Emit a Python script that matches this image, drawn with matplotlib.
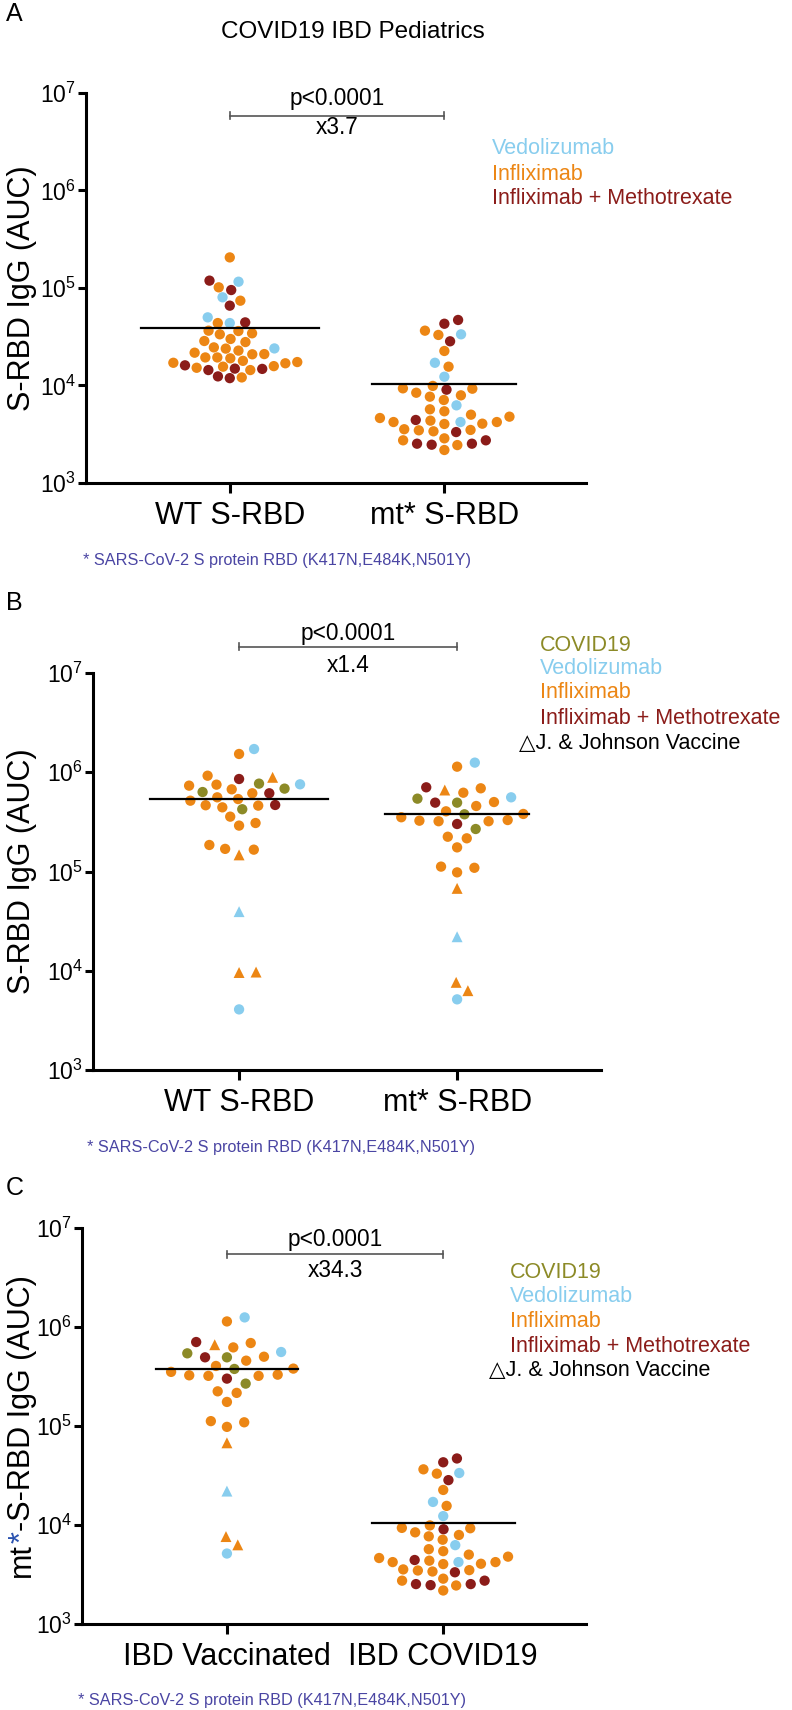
import numpy as np
import matplotlib
matplotlib.use('Agg')
import matplotlib.pyplot as plt
from matplotlib.ticker import NullLocator
from matplotlib.transforms import blended_transform_factory

plt.rcParams['font.family'] = ['Liberation Sans', 'DejaVu Sans']
plt.rcParams['mathtext.fontset'] = 'custom'
plt.rcParams['mathtext.rm'] = 'Liberation Sans'
plt.rcParams['mathtext.it'] = 'Liberation Sans:italic'
plt.rcParams['mathtext.bf'] = 'Liberation Sans:bold'

W, H = 792, 1710

# ---- data (S-RBD IgG AUC values) ----
# panel A: COVID19 IBD pediatrics, WT vs mutant RBD
a_wt_vedo = [116000, 80300, 43700, 50000, 24000]
a_wt_ifx = [206000, 101600, 74100, 43700, 36200, 33500, 34300, 36500, 30000, 27900,
            28600, 24600, 21700, 21000, 19400, 23900, 22800, 19400, 20900, 15800,
            16900, 17400, 15200, 14400, 19000, 17100, 15600, 17900, 12100]
a_wt_mtx = [119000, 95300, 65900, 44400, 16100, 12400, 14900, 11900, 14800, 14400]

a_mt_vedo = [33500, 17100, 12300, 6260, 4220]
a_mt_ifx = [36500, 33000, 22600, 15600, 9900, 9270, 8430, 9350, 7930, 7680,
            7100, 5700, 5440, 5020, 4790, 4360, 4220, 4030, 4220, 4060,
            4640, 3470, 3500, 3390, 3560, 2870, 2740, 2450, 2180]
a_mt_mtx = [47000, 43000, 28400, 9060, 4430, 3330, 2740, 2470, 2530, 2530]

# panel B: vaccinated IBD, WT vs mutant RBD
b_wt_covid = [684000, 768000, 632000, 424000]
b_wt_vedo = [1714000, 756000, 4080]
b_wt_vedo_jj = [39400]
b_wt_ifx = [1528000, 673000, 750000, 923000, 733000, 517000, 559000, 614000, 537000,
            443000, 465000, 461000, 308000, 290000, 357000, 169000, 166000, 185000]
b_wt_ifx_jj = [889000, 147000, 9700, 9600]
b_wt_mtx = [855000, 614000, 468000]

b_mt_covid = [494000, 542000, 377000, 268000]
b_mt_vedo = [1250000, 559000, 5150]
b_mt_vedo_jj = [22000]
b_mt_ifx = [1138000, 689000, 622000, 501000, 457000, 325000, 380000, 404000, 321000,
            352000, 321000, 330000, 224000, 216000, 175000, 109000, 112000, 98000]
b_mt_ifx_jj = [662000, 67600, 7640, 6300]
b_mt_mtx = [705000, 494000, 301000]

cats_a = ['WT S-RBD', 'mt* S-RBD']
cats_b = ['WT S-RBD', 'mt* S-RBD']
cats_c = ['IBD Vaccinated', 'IBD COVID19']
ratios = ['x3.7', 'x1.4', 'x34.3']
decades = [3, 4, 5, 6, 7]

col = {'covid': '#8c8a27', 'vedo': '#88cdee', 'ifx': '#ec8614', 'mtx': '#8b1c19'}
foot_col = '#4a45a3'
footnote = '* SARS-CoV-2 S protein RBD (K417N,E484K,N501Y)'

fig = plt.figure(figsize=(W / 100, H / 100), dpi=100)
fig.patch.set_facecolor('white')


def fx(x):
    return x / W


def fy(y):
    return 1 - y / H


def make_axes(x0, x1, ytop, ybot):
    ax = fig.add_axes([fx(x0), fy(ybot), (x1 - x0) / W, (ybot - ytop) / H])
    ax.set_yscale('log')
    ax.set_ylim(10.0 ** decades[0], 10.0 ** decades[-1])
    ax.set_xlim(-0.67, 1.66)
    ax.set_yticks([10.0 ** d for d in decades])
    ax.set_yticklabels(['$10^{%d}$' % d for d in decades])
    ax.yaxis.set_minor_locator(NullLocator())
    for s in ['top', 'right']:
        ax.spines[s].set_visible(False)
    for s in ['left', 'bottom']:
        ax.spines[s].set_linewidth(2.2)
    ax.tick_params(axis='y', length=6, width=2.2, pad=1, labelsize=16.5)
    ax.tick_params(axis='x', length=7, width=2.2, pad=6, labelsize=22)
    ax.set_xticks([0, 1])
    return ax


def swarm(vals, ax, step, vgap=10.5):
    # simple beeswarm in pixel space
    ypx = ax.transData.transform(np.column_stack([np.zeros(len(vals)), vals]))[:, 1]
    xs = np.zeros(len(vals))
    placed = []
    for i in np.argsort(ypx):
        y = ypx[i]
        bad = []
        for px_, py_ in placed:
            d = (y - py_) / vgap
            if abs(d) < 1:
                half = step * np.sqrt(1 - d * d)
                bad.append((px_ - half, px_ + half))
        cands = [0.0] + [b[0] for b in bad] + [b[1] for b in bad]
        cands.sort(key=lambda c: (abs(c), -c))
        for c in cands:
            if all(not (lo + 1e-6 < c < hi - 1e-6) for lo, hi in bad):
                xs[i] = c
                break
        placed.append((xs[i], y))
    return xs


def draw_column(ax, pos, groups, step, half_w):
    vals = np.concatenate([np.asarray(g[0], float) for g in groups])
    keys = []
    for g in groups:
        keys += [(g[1], g[2])] * len(g[0])
    off = swarm(vals, ax, step)
    unit = ax.transData.transform([[1, 1e3]])[0, 0] - ax.transData.transform([[0, 1e3]])[0, 0]
    xs = pos + off / unit
    for (c, m) in set(keys):
        idx = [i for i, k in enumerate(keys) if k == (c, m)]
        ax.scatter(xs[idx], vals[idx], s=62 if m == '^' else 55, marker=m,
                   color=col[c], edgecolors='none', zorder=2, clip_on=False)
    ax.plot([pos - half_w, pos + half_w], [vals.mean()] * 2, color='black', lw=1.6, zorder=3)


def bracket(ax, y_p, y_line, y_ratio, ratio):
    tr = blended_transform_factory(ax.transData, fig.transFigure)
    ax.plot([0, 1], [fy(y_line)] * 2, transform=tr, color='#555555', lw=1.2, clip_on=False)
    for x in [0, 1]:
        ax.plot([x, x], [fy(y_line - 3.5), fy(y_line + 3.5)], transform=tr,
                color='#555555', lw=1.2, clip_on=False)
    ax.text(0.5, fy(y_p), 'p<0.0001', transform=tr, ha='center', va='center', fontsize=16.3)
    ax.text(0.5, fy(y_ratio), ratio, transform=tr, ha='center', va='center', fontsize=16.3)


def legend(x, ys, with_covid, x_jj=None):
    items = [('COVID19', col['covid'])] if with_covid else []
    items += [('Vedolizumab', col['vedo']), ('Infliximab', col['ifx']),
              ('Infliximab + Methotrexate', col['mtx'])]
    for (t, c), y in zip(items, ys):
        fig.text(fx(x), fy(y), t, color=c, fontsize=15.5, ha='left', va='center')
    if x_jj is not None:
        fig.text(fx(x_jj), fy(ys[-1]), '\u25b3J. & Johnson Vaccine', color='black',
                 fontsize=15.5, ha='left', va='center')


# ---------------- panel A ----------------
fig.text(fx(6), fy(14), 'A', fontsize=18, ha='left', va='center')
fig.text(fx(353), fy(32), 'COVID19 IBD Pediatrics', fontsize=17.5, ha='center', va='center')
axA = make_axes(86, 586, 93, 483)
axA.set_xticklabels(cats_a)
draw_column(axA, 0, [(a_wt_vedo, 'vedo', 'o'), (a_wt_ifx, 'ifx', 'o'), (a_wt_mtx, 'mtx', 'o')], 12, 0.416)
draw_column(axA, 1, [(a_mt_vedo, 'vedo', 'o'), (a_mt_ifx, 'ifx', 'o'), (a_mt_mtx, 'mtx', 'o')], 14.7, 0.336)
bracket(axA, 98, 116, 128, ratios[0])
legend(492, [149, 174, 199], False)
fig.text(fx(22), fy(288), 'S-RBD IgG (AUC)', rotation=90, fontsize=22, ha='center', va='center')
fig.text(fx(83), fy(560), footnote, color=foot_col, fontsize=11.7, ha='left', va='center')

# ---------------- panel B ----------------
fig.text(fx(6), fy(603), 'B', fontsize=18, ha='left', va='center')
axB = make_axes(93, 601, 673, 1070)
axB.set_xticklabels(cats_b)
draw_column(axB, 0, [(b_wt_covid, 'covid', 'o'), (b_wt_vedo, 'vedo', 'o'), (b_wt_vedo_jj, 'vedo', '^'),
                     (b_wt_ifx, 'ifx', 'o'), (b_wt_ifx_jj, 'ifx', '^'), (b_wt_mtx, 'mtx', 'o')], 17, 0.41)
draw_column(axB, 1, [(b_mt_covid, 'covid', 'o'), (b_mt_vedo, 'vedo', 'o'), (b_mt_vedo_jj, 'vedo', '^'),
                     (b_mt_ifx, 'ifx', 'o'), (b_mt_ifx_jj, 'ifx', '^'), (b_mt_mtx, 'mtx', 'o')], 19.2, 0.33)
bracket(axB, 633, 647, 665, ratios[1])
legend(540, [645, 669, 693, 718, 743], True, x_jj=519)
fig.text(fx(22), fy(871), 'S-RBD IgG (AUC)', rotation=90, fontsize=22, ha='center', va='center')
fig.text(fx(87), fy(1147), footnote, color=foot_col, fontsize=11.7, ha='left', va='center')

# ---------------- panel C ----------------
fig.text(fx(6), fy(1188), 'C', fontsize=18, ha='left', va='center')
axC = make_axes(82, 586, 1228, 1624)
axC.set_xticklabels(cats_c)
draw_column(axC, 0, [(b_mt_covid, 'covid', 'o'), (b_mt_vedo, 'vedo', 'o'), (b_mt_vedo_jj, 'vedo', '^'),
                     (b_mt_ifx, 'ifx', 'o'), (b_mt_ifx_jj, 'ifx', '^'), (b_mt_mtx, 'mtx', 'o')], 19.2, 0.33)
draw_column(axC, 1, [(a_mt_vedo, 'vedo', 'o'), (a_mt_ifx, 'ifx', 'o'), (a_mt_mtx, 'mtx', 'o')], 14.7, 0.33)
bracket(axC, 1239, 1254, 1270, ratios[2])
legend(510, [1272, 1296, 1321, 1346, 1370], True, x_jj=489)
fig.text(fx(78), fy(1700), footnote, color=foot_col, fontsize=11.7, ha='left', va='center')

# y label with a blue asterisk, built from pieces
r = fig.canvas.get_renderer()
pieces = [('mt', 'black'), ('*', '#2a52b0'), ('-S-RBD IgG (AUC)', 'black')]
texts = [fig.text(fx(22), 0, s, color=c, rotation=90, ha='center', va='bottom', fontsize=22)
         for s, c in pieces]
hs = [t.get_window_extent(r).height for t in texts]
y = (H - 1426) - sum(hs) / 2
for t, h in zip(texts, hs):
    t.set_position((fx(22), y / H))
    y += h

fig.savefig('out.png', dpi=100)
